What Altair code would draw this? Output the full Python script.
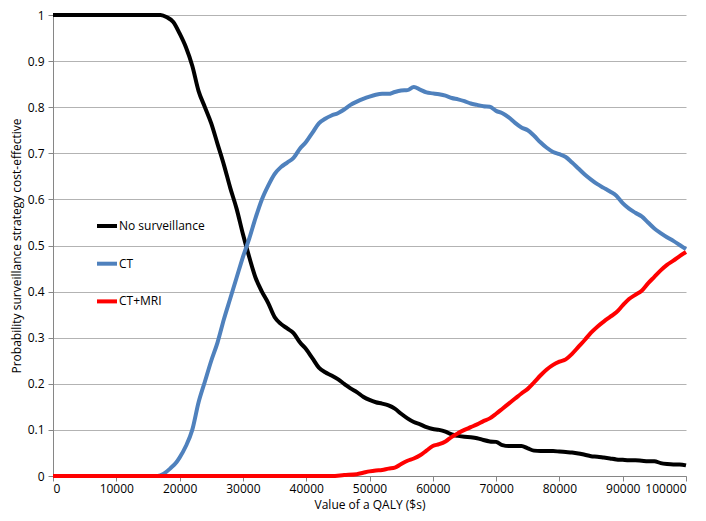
import altair as alt
import pandas as pd

series_names = ["No surveillance", "CT", "CT+MRI"]
series_colors = ["#000000", "#4f81bd", "#ff0000"]

no_surv_x = [0, 17000, 18000, 19000, 20000, 21000, 22000, 23000, 24000, 25000, 26000, 27000, 28000, 29000, 30000,
             31000, 32000, 33000, 34000, 35000, 36000, 37000, 38000, 39000, 40000, 41000, 42000, 43000, 44000, 45000,
             46000, 47000, 48000, 49000, 50000, 51000, 52000, 53000, 54000, 55000, 56000, 57000, 58000, 59000, 60000,
             61000, 62000, 63000, 64000, 65000, 66000, 67000, 68000, 69000, 70000, 71000, 72000, 73000, 74000, 75000,
             76000, 77000, 78000, 79000, 80000, 81000, 82000, 83000, 84000, 85000, 86000, 87000, 88000, 89000, 90000,
             91000, 92000, 93000, 94000, 95000, 96000, 97000, 98000, 99000, 100000]
no_surv_y = [1.0, 1.0, 0.995, 0.985, 0.96, 0.93, 0.89, 0.835, 0.80, 0.765, 0.72, 0.675, 0.625, 0.58, 0.525,
             0.475, 0.43, 0.40, 0.375, 0.345, 0.33, 0.32, 0.31, 0.29, 0.275, 0.255, 0.235, 0.225, 0.218, 0.21,
             0.20, 0.19, 0.182, 0.172, 0.165, 0.160, 0.157, 0.153, 0.146, 0.135, 0.125, 0.117, 0.112, 0.106, 0.102,
             0.100, 0.096, 0.090, 0.087, 0.085, 0.084, 0.082, 0.078, 0.075, 0.074, 0.067, 0.065, 0.065, 0.065, 0.060,
             0.055, 0.054, 0.054, 0.054, 0.053, 0.052, 0.051, 0.049, 0.046, 0.043, 0.042, 0.040, 0.038, 0.036, 0.035,
             0.034, 0.034, 0.033, 0.032, 0.032, 0.028, 0.026, 0.025, 0.025, 0.023]

ct_x = [0, 16500, 17500, 18500, 19500, 20000, 21000, 22000, 23000, 24000, 25000, 26000, 27000, 28000, 29000, 30000,
        31000, 32000, 33000, 34000, 35000, 36000, 37000, 38000, 39000, 40000, 41000, 42000, 43000, 44000, 45000,
        46000, 47000, 48000, 49000, 50000, 51000, 52000, 53000, 54000, 55000, 56000, 57000, 58000, 59000, 60000,
        61000, 62000, 63000, 64000, 65000, 66000, 67000, 68000, 69000, 70000, 71000, 72000, 73000, 74000, 75000,
        76000, 77000, 78000, 79000, 80000, 81000, 82000, 83000, 84000, 85000, 86000, 87000, 88000, 89000, 90000,
        91000, 92000, 93000, 94000, 95000, 96000, 97000, 98000, 99000, 100000]
ct_y = [0.0, 0.0, 0.005, 0.016, 0.03, 0.04, 0.065, 0.10, 0.16, 0.205, 0.25, 0.29, 0.34, 0.385, 0.43, 0.475,
        0.515, 0.56, 0.60, 0.63, 0.655, 0.67, 0.68, 0.69, 0.71, 0.725, 0.745, 0.765, 0.775, 0.782, 0.787,
        0.795, 0.805, 0.812, 0.818, 0.823, 0.827, 0.829, 0.829, 0.833, 0.836, 0.837, 0.844, 0.838, 0.832, 0.830,
        0.828, 0.825, 0.820, 0.817, 0.813, 0.808, 0.805, 0.802, 0.801, 0.792, 0.787, 0.778, 0.766, 0.756, 0.750,
        0.738, 0.724, 0.712, 0.703, 0.698, 0.692, 0.680, 0.667, 0.654, 0.643, 0.633, 0.625, 0.617, 0.608, 0.592,
        0.580, 0.571, 0.563, 0.550, 0.537, 0.527, 0.518, 0.510, 0.501, 0.492]

ctmri_x = [0, 44000, 46000, 48000, 49000, 50000, 51000, 52000, 53000, 54000, 55000, 56000, 57000, 58000, 59000, 60000,
           61000, 62000, 63000, 64000, 65000, 66000, 67000, 68000, 69000, 70000, 71000, 72000, 73000, 74000, 75000,
           76000, 77000, 78000, 79000, 80000, 81000, 82000, 83000, 84000, 85000, 86000, 87000, 88000, 89000, 90000,
           91000, 92000, 93000, 94000, 95000, 96000, 97000, 98000, 99000, 100000]
ctmri_y = [0.0, 0.0, 0.002, 0.004, 0.007, 0.010, 0.012, 0.013, 0.016, 0.018, 0.026, 0.033, 0.038, 0.045, 0.055, 0.065,
           0.069, 0.075, 0.085, 0.093, 0.100, 0.106, 0.112, 0.119, 0.125, 0.135, 0.146, 0.157, 0.168, 0.179, 0.189,
           0.203, 0.218, 0.231, 0.241, 0.248, 0.253, 0.265, 0.280, 0.295, 0.311, 0.324, 0.335, 0.345, 0.355, 0.370,
           0.384, 0.393, 0.402, 0.418, 0.432, 0.446, 0.458, 0.467, 0.477, 0.486]

frames = []
for name, xs, ys in zip(series_names, [no_surv_x, ct_x, ctmri_x], [no_surv_y, ct_y, ctmri_y]):
    frames.append(pd.DataFrame({"x": xs, "y": ys, "series": name}))
df = pd.concat(frames, ignore_index=True)

FONT = "Open Sans"

chart = alt.Chart(df).mark_line(strokeWidth=4, interpolate="monotone").encode(
    x=alt.X("x:Q", title="Value of a QALY ($s)",
            scale=alt.Scale(domain=[0, 100000], nice=False),
            axis=alt.Axis(values=list(range(0, 100001, 10000)), format="d", grid=False,
                          domainColor="#868686", tickColor="#868686", tickSize=5,
                          labelPadding=2, titleY=32, titleBaseline="alphabetic")),
    y=alt.Y("y:Q", title="Probability surveillance strategy cost-effective",
            scale=alt.Scale(domain=[0, 1], nice=False),
            axis=alt.Axis(values=[i / 10 for i in range(11)], format=".1~f", grid=True,
                          gridColor="#b3b3b3", domainColor="#868686", tickColor="#868686",
                          tickSize=5, labelPadding=4, titlePadding=4)),
    color=alt.Color("series:N", sort=series_names,
                    scale=alt.Scale(domain=series_names, range=series_colors),
                    legend=alt.Legend(title=None, orient="none", legendX=42, legendY=199,
                                      symbolType="stroke", symbolSize=400, symbolStrokeWidth=4,
                                      rowPadding=17.7, labelFontSize=12, labelOffset=0,
                                      labelFont=FONT, labelColor="#000000")),
    order=alt.Order("series:N"),
).properties(
    width=633, height=461,
    autosize=alt.AutoSizeParams(type="none"),
    padding={"left": 45, "top": 7, "right": 12, "bottom": 36},
).configure_view(stroke=None).configure_axis(
    labelFont=FONT, titleFont=FONT, labelFontSize=12, titleFontSize=12,
    titleFontWeight="normal", labelColor="#000000", titleColor="#000000"
)

chart.save("out.html", embed_options={"renderer": "svg", "actions": False})
